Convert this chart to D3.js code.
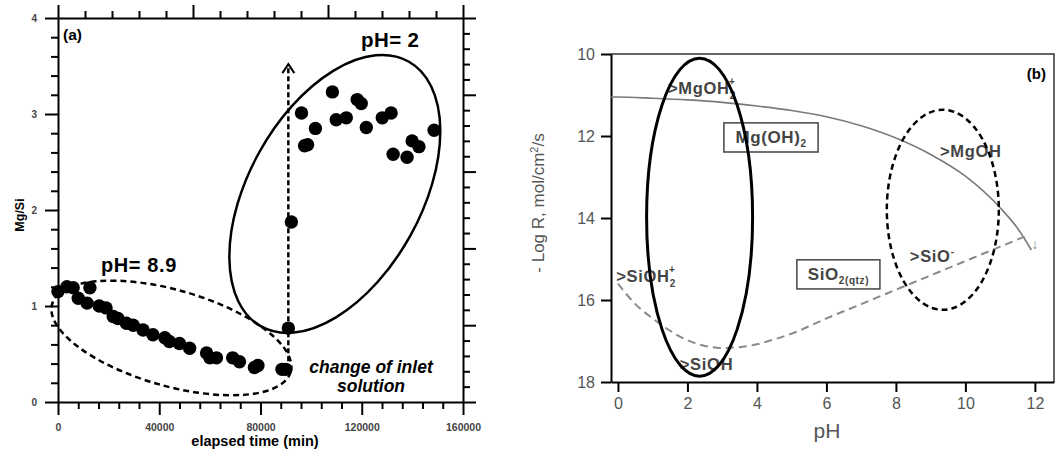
<!DOCTYPE html>
<html lang="en">
<head>
    <meta charset="UTF-8">
    <title>Mg/Si and dissolution rates</title>
    <script src="https://d3js.org/d3.v7.min.js"></script>
    <style>
        body { margin: 0; background: #fff; }
        svg { font-family: "Liberation Sans", Arial, sans-serif; }
        .axis path, .axis line { stroke: #000; }
    </style>
</head>
<body>
<svg width="1055" height="453"></svg>
<script>
    // panel (a): Mg/Si vs elapsed time
    let timeHigh = [0, 3500, 6000, 8000, 11500, 12600, 16300, 19000, 21800, 23700, 27000, 29700, 33600, 37500,
        42200, 44000, 48000, 52000, 58700, 60000, 62600, 69000, 71700, 77600, 79000, 88500, 90000];
    let ratioHigh = [1.15, 1.2, 1.19, 1.08, 1.03, 1.19, 1.0, 0.98, 0.89, 0.87, 0.82, 0.8, 0.75, 0.7,
        0.67, 0.63, 0.61, 0.56, 0.51, 0.46, 0.46, 0.46, 0.42, 0.36, 0.38, 0.34, 0.34];
    let timeLow = [91000, 92200, 96200, 97400, 98600, 101700, 108400, 109900, 113900, 118200, 119800, 121800,
        128100, 131600, 132400, 137900, 139900, 142600, 148600];
    let ratioLow = [0.77, 1.875, 3.01, 2.67, 2.68, 2.85, 3.23, 2.94, 2.96, 3.15, 3.11, 2.86,
        2.96, 3.01, 2.58, 2.55, 2.72, 2.66, 2.83];
    let timeTicks = [0, 40000, 80000, 120000, 160000];
    let ratioTicks = [0, 1, 2, 3, 4];

    // panel (b): -log R vs pH
    let phMg = [-0.2, 0, 1, 2, 3, 4, 5, 6, 7, 8, 9, 10, 11, 11.5, 11.9];
    let rateMg = [11.05, 11.05, 11.08, 11.12, 11.18, 11.27, 11.38, 11.53, 11.75, 12.05, 12.45, 12.98, 13.75, 14.25, 14.78];
    let phSi = [0, 0.5, 1, 1.5, 2, 2.5, 3, 3.5, 4, 4.5, 5, 6, 7, 8, 9, 10, 11, 11.8];
    let rateSi = [15.6, 16.1, 16.45, 16.75, 16.98, 17.12, 17.17, 17.15, 17.08, 16.96, 16.82, 16.45, 16.1, 15.75, 15.4, 15.05, 14.7, 14.42];
    let phTicks = [0, 2, 4, 6, 8, 10, 12];
    let rateTicks = [10, 12, 14, 16, 18];

    let svg = d3.select("svg");

    // ---------- panel (a) ----------
    let xA = d3.scaleLinear().domain([0, 160000]).range([58, 463]);
    let yA = d3.scaleLinear().domain([0, 4]).range([402, 18]);
    let topS = d3.scaleLinear().domain([0, 15]).range([58, 463]);
    let rightS = d3.scaleLinear().domain([0, 25]).range([402, 18]);

    function styleTicks(g, isMajor, horiz) {
        g.selectAll(".tick line").attr(horiz ? "x2" : "y2", function (d) {
            let s = Math.sign(+d3.select(this).attr(horiz ? "x2" : "y2")) || 1;
            return s * (isMajor(d) ? 13 : 7);
        }).attr("stroke-width", 2);
        g.select(".domain").attr("stroke-width", 2);
    }

    let axB = svg.append("g").attr("class", "axis").attr("transform", "translate(0,402)")
        .call(d3.axisBottom(xA).tickValues(d3.range(0, 160001, 8000)).tickSizeOuter(0).tickPadding(10)
            .tickFormat(d => timeTicks.includes(d) ? d : ""));
    styleTicks(axB, d => d % 40000 === 0, false);
    axB.selectAll("text").attr("font-size", 10.5).attr("font-weight", "bold").attr("fill", "#444").attr("y", 22);

    let axT = svg.append("g").attr("class", "axis").attr("transform", "translate(0,18)")
        .call(d3.axisTop(topS).tickValues(d3.range(0, 16)).tickSizeOuter(0).tickFormat(""));
    styleTicks(axT, d => d % 5 === 0, false);

    let axL = svg.append("g").attr("class", "axis").attr("transform", "translate(58,0)")
        .call(d3.axisLeft(yA).tickValues(d3.range(0, 21).map(i => i / 5)).tickSizeOuter(0).tickPadding(8)
            .tickFormat(d => ratioTicks.includes(d) ? d : ""));
    styleTicks(axL, d => Math.abs(d - Math.round(d)) < 1e-6, true);
    axL.selectAll("text").attr("font-size", 10).attr("font-weight", "bold").attr("fill", "#444").attr("x", -21);

    let axR = svg.append("g").attr("class", "axis").attr("transform", "translate(463,0)")
        .call(d3.axisRight(rightS).tickValues(d3.range(0, 26)).tickSizeOuter(0).tickFormat(""));
    styleTicks(axR, d => d % 5 === 0, true);

    svg.append("text").attr("x", 255).attr("y", 446).attr("text-anchor", "middle")
        .attr("font-size", 14.5).attr("font-weight", "bold").text("elapsed time (min)");
    svg.append("text").attr("transform", "translate(24,215) rotate(-90)").attr("text-anchor", "middle")
        .attr("font-size", 12.5).attr("font-weight", "bold").text("Mg/Si");
    svg.append("text").attr("x", 63).attr("y", 40).attr("font-size", 15.5).attr("font-weight", "bold").text("(a)");

    // ellipses around the two groups
    svg.append("ellipse")
        .attr("transform", `translate(${xA(44800)},${yA(0.667)}) rotate(15.9)`)
        .attr("rx", 124).attr("ry", 48)
        .attr("fill", "none").attr("stroke", "#000").attr("stroke-width", 2.5).attr("stroke-dasharray", "6,4");
    svg.append("ellipse")
        .attr("transform", `translate(${xA(109360)},${yA(2.167)}) rotate(-60.9)`)
        .attr("rx", 151.6).attr("ry", 86.3)
        .attr("fill", "none").attr("stroke", "#000").attr("stroke-width", 2.5);

    // change of inlet arrow
    let arrowX = xA(91000);
    svg.append("line").attr("x1", arrowX).attr("x2", arrowX).attr("y1", yA(0.34)).attr("y2", yA(3.52))
        .attr("stroke", "#000").attr("stroke-width", 2.5).attr("stroke-dasharray", "5,3");
    svg.append("path")
        .attr("d", `M${arrowX - 6},${yA(3.52) + 9} L${arrowX},${yA(3.52)} L${arrowX + 6},${yA(3.52) + 9}`)
        .attr("fill", "none").attr("stroke", "#000").attr("stroke-width", 2);

    let ptsA = timeHigh.map((t, i) => [t, ratioHigh[i]]).concat(timeLow.map((t, i) => [t, ratioLow[i]]));
    svg.append("g").selectAll("circle").data(ptsA).join("circle")
        .attr("cx", d => xA(d[0])).attr("cy", d => yA(d[1])).attr("r", 6.7).attr("fill", "#000");

    svg.append("text").attr("x", 101).attr("y", 272).attr("font-size", 20).attr("letter-spacing", 0.6)
        .attr("font-weight", "bold").text("pH= 8.9");
    svg.append("text").attr("x", 361).attr("y", 47).attr("font-size", 20.5).attr("letter-spacing", 0.4)
        .attr("font-weight", "bold").text("pH= 2");
    svg.append("text").attr("x", 371).attr("y", 373).attr("text-anchor", "middle").attr("font-size", 17.5)
        .attr("font-weight", "bold").attr("font-style", "italic").text("change of inlet");
    svg.append("text").attr("x", 371).attr("y", 392).attr("text-anchor", "middle").attr("font-size", 17.5)
        .attr("font-weight", "bold").attr("font-style", "italic").text("solution");

    // ---------- panel (b) ----------
    let xB = d3.scaleLinear().domain([-0.2, 12.55]).range([611, 1054]);
    let yB = d3.scaleLinear().domain([10, 18]).range([54, 382]);

    // frame top/right
    svg.append("path").attr("d", `M${xB.range()[0]},${yB(10)} H${xB.range()[1]} V${yB(18)}`)
        .attr("fill", "none").attr("stroke", "#333").attr("stroke-width", 1.5);

    let bx = svg.append("g").attr("class", "axis").attr("transform", `translate(0,${yB(18)})`)
        .call(d3.axisBottom(xB).tickValues(phTicks).tickSize(10).tickSizeOuter(0).tickPadding(6));
    let by = svg.append("g").attr("class", "axis").attr("transform", `translate(${xB(-0.2)},0)`)
        .call(d3.axisLeft(yB).tickValues(rateTicks).tickSize(10).tickSizeOuter(0).tickPadding(6));
    [bx, by].forEach(g => {
        g.select(".domain").attr("stroke-width", 2);
        g.selectAll(".tick line").attr("stroke-width", 2);
        g.selectAll("text").attr("font-size", 16).attr("fill", "#555").attr("font-family", "Liberation Sans, Arial, sans-serif");
    });

    svg.append("text").attr("x", 827).attr("y", 438).attr("text-anchor", "middle")
        .attr("font-size", 21).attr("fill", "#555").text("pH");
    let yl = svg.append("text").attr("transform", "translate(544,203) rotate(-90)").attr("text-anchor", "middle")
        .attr("font-size", 17).attr("fill", "#555");
    yl.append("tspan").text("- Log R, mol/cm");
    yl.append("tspan").attr("font-size", 11).attr("dy", -6).text("2");
    yl.append("tspan").attr("dy", 6).text("/s");

    let lineB = d3.line().x(d => xB(d[0])).y(d => yB(d[1])).curve(d3.curveMonotoneX);
    svg.append("path").datum(phMg.map((p, i) => [p, rateMg[i]])).attr("d", lineB)
        .attr("fill", "none").attr("stroke", "#7a7a7a").attr("stroke-width", 1.6);
    svg.append("path").datum(phSi.map((p, i) => [p, rateSi[i]])).attr("d", lineB)
        .attr("fill", "none").attr("stroke", "#8a8a8a").attr("stroke-width", 2).attr("stroke-dasharray", "8,5");
    svg.append("text").attr("x", xB(12)).attr("y", yB(14.75)).attr("text-anchor", "middle")
        .attr("font-size", 14).attr("fill", "#888").text("↓");

    // species labels
    function species(x, y, base, sub, sup) {
        let t = svg.append("text").attr("x", xB(x)).attr("y", yB(y)).attr("font-size", 16.5)
            .attr("letter-spacing", 0.7).attr("font-weight", "bold").attr("fill", "#444").text(base);
        if (sub) t.append("tspan").attr("font-size", 10).attr("dy", 5).text(sub);
        if (sup) t.append("tspan").attr("font-size", 10).attr("dx", sub ? -7 : 0).attr("dy", sub ? -14 : -7).text(sup);
        return t;
    }
    species(1.44, 10.98, ">MgOH", "2", "+");
    species(-0.05, 15.56, ">SiOH", "2", "+");
    species(1.78, 17.7, ">SiOH");
    species(9.27, 12.51, ">MgOH");
    species(8.4, 15.07, ">SiO", null, "-");

    function boxLabel(x0, x1, y0, y1, base, sub) {
        svg.append("rect").attr("x", xB(x0)).attr("y", yB(y0)).attr("width", xB(x1) - xB(x0))
            .attr("height", yB(y1) - yB(y0)).attr("fill", "#fff").attr("stroke", "#444").attr("stroke-width", 1.5);
        let t = svg.append("text").attr("x", (xB(x0) + xB(x1)) / 2).attr("y", (yB(y0) + yB(y1)) / 2 + 6)
            .attr("text-anchor", "middle").attr("font-size", 17).attr("letter-spacing", 0.6)
            .attr("font-weight", "bold").attr("fill", "#444").text(base);
        t.append("tspan").attr("font-size", 10).attr("dy", 4).text(sub);
    }
    boxLabel(3.05, 5.76, 11.68, 12.39, "Mg(OH)", "2");
    boxLabel(5.15, 7.54, 15.02, 15.73, "SiO", "2(qtz)");

    // highlight ellipses
    svg.append("ellipse").attr("cx", xB(2.35)).attr("cy", yB(13.98)).attr("rx", 53).attr("ry", 159)
        .attr("fill", "none").attr("stroke", "#000").attr("stroke-width", 3);
    svg.append("ellipse").attr("cx", xB(9.35)).attr("cy", yB(13.8)).attr("rx", 56).attr("ry", 100)
        .attr("fill", "none").attr("stroke", "#000").attr("stroke-width", 2.5).attr("stroke-dasharray", "6,4");

    svg.append("text").attr("x", 1046).attr("y", 79).attr("text-anchor", "end").attr("font-size", 15)
        .attr("font-weight", "bold").text("(b)");
</script>
</body>
</html>
